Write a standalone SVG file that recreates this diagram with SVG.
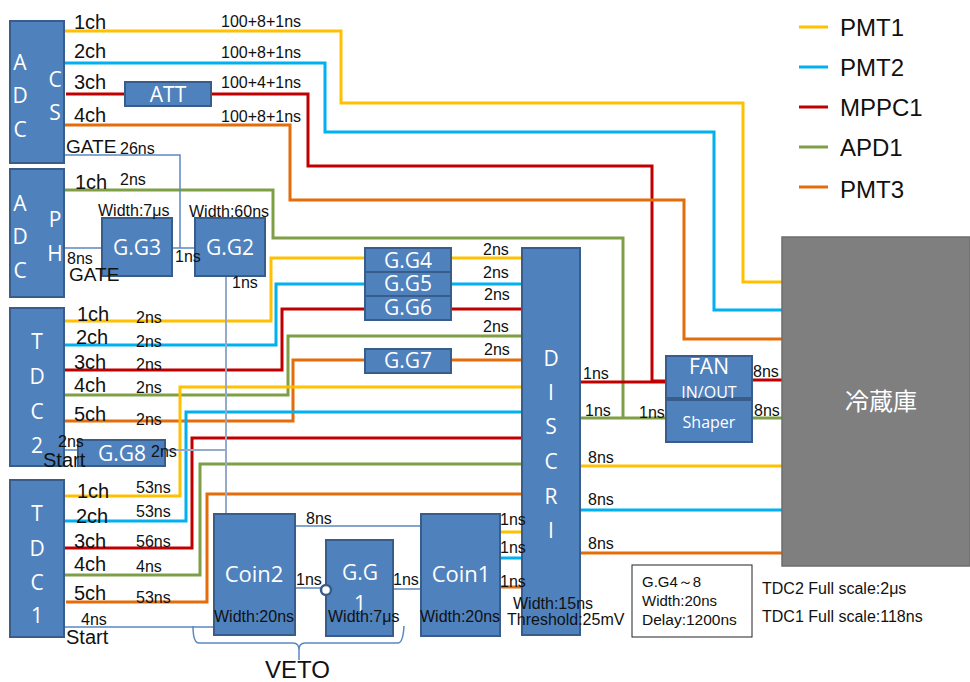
<svg xmlns="http://www.w3.org/2000/svg" width="970" height="682" viewBox="0 0 970 682">
<style>
text{font-family:"Liberation Sans",Arial,sans-serif;fill:#111}
.n rect{fill:#4f81bd;stroke:#385d8a;stroke-width:2}
.n text{font-family:"Open Sans","Noto Sans",sans-serif;fill:#fff;text-anchor:middle;font-size:21px}
.c path{fill:none;stroke-width:3}
.y{stroke:#ffc000}.b{stroke:#00b0f0}.r{stroke:#c00000}.g{stroke:#7f9f46}.o{stroke:#e46c0a}
.c path.t{stroke:#5b88c0;stroke-width:1.5}
.c path.s{stroke:#94aac8;stroke-width:2}
.ch{font-size:20px}.ns{font-size:16px}.l{font-size:24px}
</style>
<rect width="970" height="682" fill="#fff"/>
<g id="connectors" class="c">
<path class="y" d="M64 31H341V103H743V282H782"/>
<path class="b" d="M64 63H325V132H714V310H782"/>
<path class="r" d="M66 94H125M211 94H308V166H652V381H666"/>
<path class="o" d="M64 125H290V200H684V339H782"/>
<path class="g" d="M64 190H273V238H623V418"/>
<path class="y" d="M64 321H271V258H522"/>
<path class="b" d="M64 345H276V284H522"/>
<path class="r" d="M64 370H282V309H522"/>
<path class="g" d="M64 395H288V336H522"/>
<path class="o" d="M64 421H293V360H522"/>
<path class="y" d="M64 496H180V387H522"/>
<path class="b" d="M64 521H186V412H522"/>
<path class="r" d="M64 548H192V438H522"/>
<path class="g" d="M64 575H200V464H522"/>
<path class="o" d="M66 602H207V494H522"/>
<path class="r" d="M580 382H666M752 380H782"/>
<path class="g" d="M580 418H666M752 418H782"/>
<path class="y" d="M580 466H782M500 532H522"/>
<path class="b" d="M580 510H782M500 558H522"/>
<path class="o" d="M580 553H782M500 587H522"/>
<path class="t" d="M64 155H180V248M64 248H102M172 248H195M295 526H421M295 588H326M393 589H421M64 627H214M64 450H78"/>
<path class="s" d="M226 276V514M165 450H226"/>
<path class="t" d="M193 626Q193 643 199 643H293Q299 643 299 650V660M299 650Q299 643 305 643H398Q403 643 404 626"/>
<path class="y" d="M799 27H828"/><path class="b" d="M799 67H828"/><path class="r" d="M799 107H828"/><path class="g" d="M799 147H828"/><path class="o" d="M799 187H828"/>
</g>
<g id="adc-cs" class="n"><rect x="10" y="21" width="54" height="142"/><text x="20" y="70">A</text><text x="20" y="103">D</text><text x="20" y="137">C</text><text x="55" y="87">C</text><text x="55" y="120">S</text></g>
<g id="adc-ph" class="n"><rect x="10" y="169" width="54" height="128"/><text x="20" y="211">A</text><text x="20" y="244">D</text><text x="20" y="278">C</text><text x="55" y="227">P</text><text x="55" y="261">H</text></g>
<g id="tdc2" class="n"><rect x="10" y="308" width="54" height="158"/><text x="37" y="349">T</text><text x="37" y="384">D</text><text x="37" y="419">C</text><text x="37" y="453">2</text></g>
<g id="tdc1" class="n"><rect x="10" y="480" width="54" height="157"/><text x="37" y="521">T</text><text x="37" y="556">D</text><text x="37" y="590">C</text><text x="37" y="623">1</text></g>
<g id="att" class="n"><rect x="125" y="82" width="86" height="24"/><text x="168" y="102">ATT</text></g>
<g id="gg3" class="n"><rect x="102" y="218" width="70" height="58"/><text x="137" y="255">G.G3</text></g>
<g id="gg2" class="n"><rect x="195" y="218" width="70" height="58"/><text x="230" y="255">G.G2</text></g>
<g id="gg4" class="n"><rect x="365" y="248" width="86" height="24"/><text x="408" y="268">G.G4</text></g>
<g id="gg5" class="n"><rect x="365" y="272" width="86" height="24"/><text x="408" y="291">G.G5</text></g>
<g id="gg6" class="n"><rect x="365" y="296" width="86" height="24"/><text x="408" y="315">G.G6</text></g>
<g id="gg7" class="n"><rect x="365" y="349" width="86" height="24"/><text x="408" y="368">G.G7</text></g>
<g id="gg8" class="n"><rect x="78" y="440" width="87" height="26"/><text x="122" y="461">G.G8</text></g>
<g id="discri" class="n"><rect x="522" y="248" width="58" height="387"/><text x="551" y="366">D</text><text x="551" y="400">I</text><text x="551" y="434">S</text><text x="551" y="469">C</text><text x="551" y="504">R</text><text x="551" y="538">I</text></g>
<g id="fan" class="n"><rect x="666" y="356" width="86" height="42"/><text x="709" y="374">FAN</text><text x="709" y="398" style="font-size:16px">IN/OUT</text></g>
<g id="shaper" class="n"><rect x="666" y="400" width="86" height="42"/><text x="709" y="428" style="font-size:16px">Shaper</text></g>
<g id="coin2" class="n"><rect x="214" y="514" width="81" height="121"/><text x="254" y="582" style="font-size:22px">Coin2</text></g>
<g id="gg1" class="n"><rect x="326" y="540" width="67" height="96"/><text x="360" y="580">G.G</text><text x="360" y="611">1</text><circle cx="326" cy="590" r="5" fill="#fff" stroke="#385d8a" stroke-width="2.5"/></g>
<g id="coin1" class="n"><rect x="421" y="514" width="79" height="122"/><text x="461" y="582" style="font-size:22px">Coin1</text></g>
<g id="fridge"><rect x="782" y="237" width="188" height="329" fill="#7f7f7f" stroke="#6e6e6e" stroke-width="1.5"/><text x="881" y="410" font-size="24" style="font-family:'Noto Sans CJK JP',sans-serif;fill:#fff;text-anchor:middle">冷蔵庫</text></g>
<g id="note"><rect x="632" y="565" width="120" height="72" fill="#fff" stroke="#222" stroke-width="1"/><text x="642" y="587" font-size="15">G.G4～8</text><text x="642" y="606" font-size="15">Width:20ns</text><text x="642" y="625" font-size="15.5">Delay:1200ns</text></g>
<g id="legend" class="l"><text x="840" y="36">PMT1</text><text x="840" y="76">PMT2</text><text x="840" y="116">MPPC1</text><text x="840" y="156">APD1</text><text x="840" y="198">PMT3</text></g>
<g id="labels">
<g class="ch"><text x="74" y="29">1ch</text><text x="74" y="58">2ch</text><text x="74" y="89">3ch</text><text x="74" y="122">4ch</text><text x="75" y="189">1ch</text><text x="77" y="321">1ch</text><text x="76" y="344">2ch</text><text x="74" y="369">3ch</text><text x="74" y="392">4ch</text><text x="74" y="421">5ch</text><text x="77" y="498">1ch</text><text x="76" y="523">2ch</text><text x="74" y="548">3ch</text><text x="74" y="571">4ch</text><text x="74" y="600">5ch</text></g>
<g class="ns"><text x="221" y="27">100+8+1ns</text><text x="221" y="58">100+8+1ns</text><text x="221" y="88">100+4+1ns</text><text x="221" y="122">100+8+1ns</text>
<text x="120" y="154">26ns</text><text x="120" y="185">2ns</text><text x="67" y="264">8ns</text><text x="175" y="262">1ns</text><text x="232" y="288">1ns</text>
<text x="136" y="323">2ns</text><text x="136" y="347">2ns</text><text x="136" y="370">2ns</text><text x="136" y="393">2ns</text><text x="136" y="425">2ns</text><text x="58" y="447">2ns</text><text x="151" y="457">2ns</text>
<text x="136" y="493">53ns</text><text x="136" y="517">53ns</text><text x="136" y="547">56ns</text><text x="136" y="572">4ns</text><text x="136" y="603">53ns</text><text x="81" y="625">4ns</text>
<text x="306" y="524">8ns</text><text x="296" y="585">1ns</text><text x="393" y="585">1ns</text><text x="500" y="525">1ns</text><text x="500" y="553">1ns</text><text x="500" y="587">1ns</text>
<text x="483" y="255">2ns</text><text x="483" y="278">2ns</text><text x="484" y="300">2ns</text><text x="483" y="332">2ns</text><text x="484" y="355">2ns</text>
<text x="583" y="379">1ns</text><text x="585" y="416">1ns</text><text x="639" y="418">1ns</text><text x="753" y="377">8ns</text><text x="754" y="416">8ns</text><text x="588" y="463">8ns</text><text x="588" y="505">8ns</text><text x="588" y="549">8ns</text>
<text x="98" y="216">Width:7μs</text><text x="189" y="217">Width:60ns</text><text x="214" y="622">Width:20ns</text><text x="328" y="622">Width:7μs</text><text x="420" y="622">Width:20ns</text><text x="513" y="609">Width:15ns</text><text x="507" y="625">Threshold:25mV</text></g>
<g font-size="19"><text x="66" y="153">GATE</text><text x="69" y="281">GATE</text></g>
<g font-size="20"><text x="43" y="467">Start</text><text x="66" y="644">Start</text></g>
<text x="265" y="678" font-size="24">VETO</text>
<text x="762" y="594" class="ns">TDC2 Full scale:2μs</text><text x="762" y="622" class="ns">TDC1 Full scale:118ns</text>
</g>
</svg>
